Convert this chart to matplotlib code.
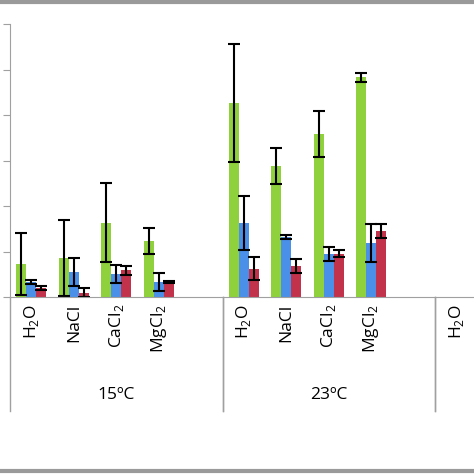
import numpy as np
import matplotlib
matplotlib.use("Agg")
import matplotlib.pyplot as plt

plt.rcParams['font.family'] = ['Open Sans', 'DejaVu Sans']
plt.rcParams['mathtext.fontset'] = 'custom'
plt.rcParams['mathtext.rm'] = 'Open Sans'

groups = ["15ºC", "23ºC", ""]
salts = ["H$_2$O", "NaCl", "CaCl$_2$", "MgCl$_2$", ""]
series = ["GERMINAÇÃO", "COMPRIMENTO", "APRESSÓRIO"]
colors = ["#8ed13c", "#4a8fe8", "#c2334b"]

# values per group (15C, 23C, third cropped group), per salt
germ = [[0.73, 0.86, 1.63, 1.23], [4.26, 2.88, 3.58, 4.83], [0, 0, 0, 0]]
germ_err = [[0.68, 0.83, 0.87, 0.28], [1.3, 0.4, 0.5, 0.1], [0, 0, 0, 0]]
comp = [[0.33, 0.55, 0.5, 0.33], [1.63, 1.32, 0.95, 1.19], [0, 0, 0, 0]]
comp_err = [[0.05, 0.3, 0.2, 0.2], [0.6, 0.05, 0.15, 0.42], [0, 0, 0, 0]]
apre = [[0.2, 0.09, 0.59, 0.33], [0.62, 0.68, 0.95, 1.45], [0, 0, 0, 0]]
apre_err = [[0.05, 0.1, 0.1, 0.03], [0.25, 0.15, 0.08, 0.15], [0, 0, 0, 0]]

fig = plt.figure(figsize=(4.74, 4.74), dpi=100)
slot = 42.5 / 474
ax = fig.add_axes([10 / 474, 1 - 297 / 474, slot * 15, (297 - 24) / 474])

w = 0.235
data = [(germ, germ_err), (comp, comp_err), (apre, apre_err)]
for s, (vals, errs) in enumerate(data):
    xs, ys, es = [], [], []
    for g in range(3):
        for c in range(4):
            xs.append(g * 5 + c + 0.5 + (s - 1) * w)
            ys.append(vals[g][c])
            es.append(errs[g][c])
    ys = np.array(ys)
    es = np.array(es)
    mask = ys > 0
    ax.bar(np.array(xs)[mask], ys[mask], w, color=colors[s], label=series[s],
           yerr=es[mask], error_kw=dict(ecolor="black", elinewidth=1.5, capsize=4, capthick=1.5))

ax.set_xlim(0, 15)
ax.set_ylim(0, 6)
ax.set_yticks(range(7))
ax.set_yticklabels([])
ax.set_xticks([])
for sp in ["top", "right"]:
    ax.spines[sp].set_visible(False)
for sp in ["left", "bottom"]:
    ax.spines[sp].set_color("#a0a0a0")
ax.tick_params(axis="y", color="#a0a0a0", length=5)

for g in range(3):
    for c in range(5):
        ax.text(g * 5 + c + 0.5, -0.15, salts[c], rotation=90, ha="center", va="top", fontsize=12.5)
    ax.text(g * 5 + 2.5, -2.15, groups[g], ha="center", va="center", fontsize=12.5)
    ax.plot([g * 5, g * 5], [0, -2.5], color="#a0a0a0", lw=1, clip_on=False)
    ax.plot([g * 5 + 5, g * 5 + 5], [0, -2.5], color="#a0a0a0", lw=1, clip_on=False)

ax.legend(loc="center left", bbox_to_anchor=(-0.028, -0.81), ncol=3, frameon=False,
          fontsize=12.5, handlelength=0.6, handleheight=0.6, handletextpad=0.25,
          columnspacing=1.0, borderaxespad=0)

for yy in [0.996, 0.006]:
    fig.add_artist(plt.Line2D([0, 1], [yy, yy], transform=fig.transFigure,
                              color="#9a9a9a", lw=3))
fig.savefig("out.png", dpi=100)
